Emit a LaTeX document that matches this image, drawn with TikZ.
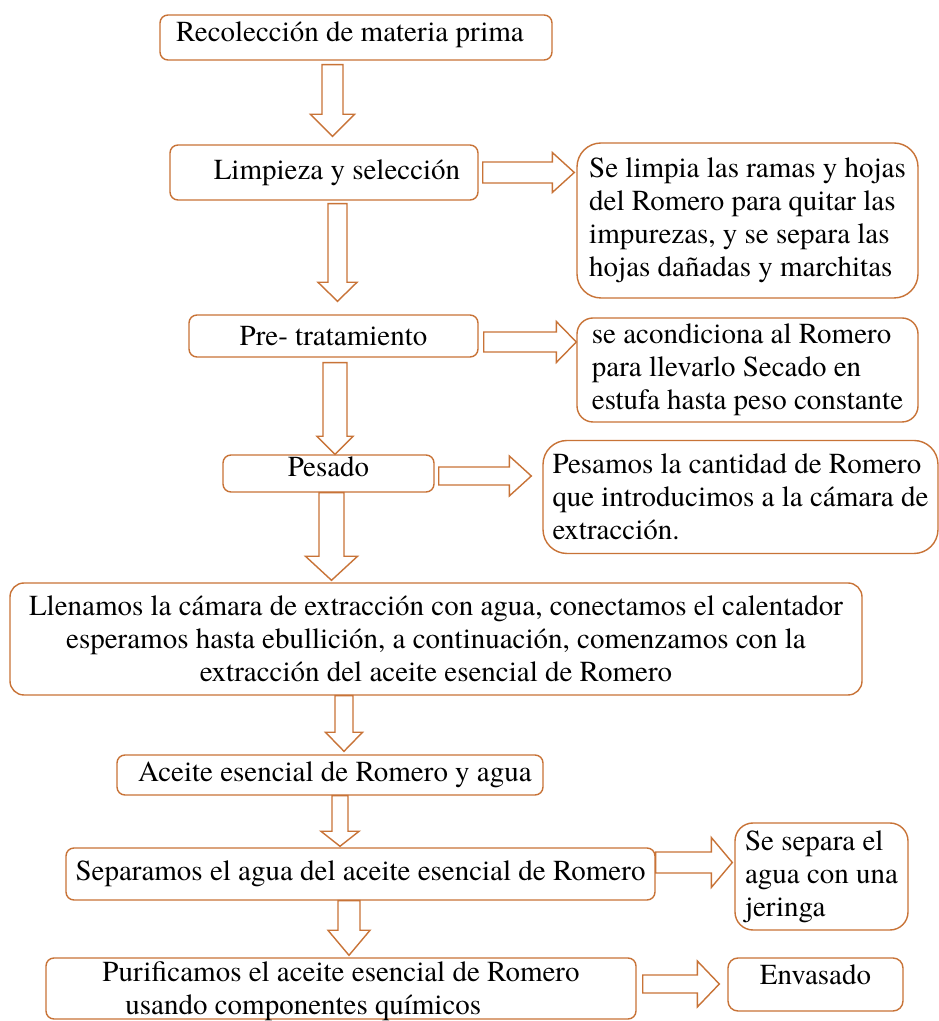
\documentclass[tikz,border=0pt]{standalone}
\usepackage{fontspec}
\setmainfont{TeX Gyre Termes}
\usetikzlibrary{calc}
\definecolor{orl}{RGB}{200,115,55}
\tikzset{
  box/.style={draw=orl, line width=1.4pt, rounded corners=8pt, inner xsep=4pt, inner ysep=2pt,
    font=\fontsize{29}{33}\selectfont, text=black},
  side/.style={box, rounded corners=24pt, align=left},
  barrow/.style={draw=orl, line width=1.4pt, fill=white, line join=miter}
}
% vertical block arrow: src, dst, x centre, shaft half, head half, head length, gap top, gap bottom
\newcommand\varr[8]{\draw[barrow] let \p1=(#1.south), \p2=(#2.north) in
  ({#3pt-#4pt},{\y1-#7pt}) -- ({#3pt+#4pt},{\y1-#7pt}) -- ({#3pt+#4pt},{\y2+#8pt+#6pt})
  -- ({#3pt+#5pt},{\y2+#8pt+#6pt}) -- (#3pt,{\y2+#8pt}) -- ({#3pt-#5pt},{\y2+#8pt+#6pt})
  -- ({#3pt-#4pt},{\y2+#8pt+#6pt}) -- cycle;}
% horizontal block arrow: src, dst, y centre, shaft half, head half, head length, gap left, gap right
\newcommand\harr[8]{\draw[barrow] let \p1=(#1.east), \p2=(#2.west) in
  ({\x1+#7pt},{#3pt+#4pt}) -- ({\x2-#8pt-#6pt},{#3pt+#4pt}) -- ({\x2-#8pt-#6pt},{#3pt+#5pt})
  -- ({\x2-#8pt},#3pt) -- ({\x2-#8pt-#6pt},{#3pt-#5pt}) -- ({\x2-#8pt-#6pt},{#3pt-#4pt})
  -- ({\x1+#7pt},{#3pt-#4pt}) -- cycle;}
\begin{document}
\begin{tikzpicture}[x=1pt,y=1pt]
\useasboundingbox (0,0) rectangle (938,1021);
\fill[white] (0,0) rectangle (938,1021);

\node[box, text depth=11pt, minimum width=392pt, minimum height=45pt] (n1) at (356,983.5)
  {Recolección de materia prima\hspace*{12pt}};
\node[box, minimum width=308pt, minimum height=55pt] (n2) at (324,848.5)
  {\hspace*{26pt}Limpieza y selección};
\node[side, minimum width=341pt, minimum height=155pt] (s1) at (747.5,800.5)
  {Se limpia las ramas y hojas\\del Romero para quitar las\\impurezas, y se separa las\\hojas dañadas y marchitas};
\node[box, minimum width=289pt, minimum height=42pt] (n3) at (333.5,685)
  {Pre- tratamiento};
\node[side, rounded corners=16pt, minimum width=341pt, minimum height=104pt] (s2) at (747.5,651)
  {se acondiciona al Romero\\para llevarlo Secado en\\estufa hasta peso constante};
\node[box, text depth=14pt, inner ysep=0pt, minimum width=211pt, minimum height=37pt] (n4) at (328.5,547.5)
  {Pesado};
\node[side, minimum width=395pt, minimum height=113pt] (s3) at (740.5,524)
  {Pesamos la cantidad de Romero\\que introducimos a la cámara de\\extracción.};
\node[box, align=center, rounded corners=14pt, minimum width=852pt, minimum height=112pt] (n5) at (436,382)
  {Llenamos la cámara de extracción con agua, conectamos el calentador\\esperamos hasta ebullición, a continuación, comenzamos con la\\extracción del aceite esencial de Romero};
\node[box, minimum width=426pt, minimum height=40pt] (n6) at (330,246)
  {\hspace*{10pt}Aceite esencial de Romero y agua};
\node[box, minimum width=589pt, minimum height=52pt] (n7) at (360.5,147)
  {Separamos el agua del aceite esencial de Romero};
\node[side, rounded corners=18pt, minimum width=173pt, minimum height=107pt] (s4) at (821.5,144.5)
  {Se separa el\\agua con una\\jeringa};
\node[box, minimum width=590pt, minimum height=61pt] (n8) at (341,32.5) {};
\node[font=\fontsize{29}{33}\selectfont, align=left, inner sep=0pt] (n8t) at (341,30)
  {Purificamos el aceite esencial de Romero\\\hspace*{23pt}usando componentes químicos};
\node[box, rounded corners=10pt, text depth=19pt, minimum width=175pt, minimum height=53pt] (n9) at (815.5,36.5)
  {Envasado};

% vertical block arrows
\varr{n1}{n2}{332.5}{10.5}{22}{22}{4}{8}
\varr{n2}{n3}{337.5}{9.5}{19.5}{19}{3}{13}
\varr{n3}{n4}{335}{12}{18}{18}{5}{0}
\varr{n4}{n5}{331.5}{12.5}{26}{24}{0}{2}
\varr{n5}{n6}{344}{9}{18.5}{19}{0}{3}
\varr{n6}{n7}{340}{8}{19}{15}{0}{1}
\varr{n7}{n8}{349}{11}{21}{25}{0}{2}
% horizontal block arrows
\harr{n2}{s1}{848.5}{10.5}{20}{22}{4}{2}
\harr{n3}{s2}{679}{10}{20.5}{20}{5}{0}
\harr{n4}{s3}{545}{9}{20}{22}{4}{11}
\harr{n7}{s4}{158.5}{10.5}{25}{21}{0}{2}
\harr{n8}{n9}{37}{9}{23}{22}{6}{8}
\end{tikzpicture}
\end{document}
